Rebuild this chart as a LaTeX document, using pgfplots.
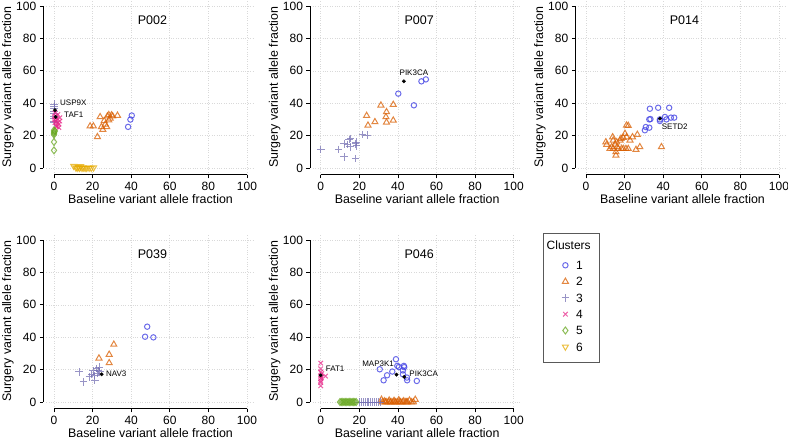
\documentclass[border=0pt]{standalone}
\usepackage{pgfplots}
\pgfplotsset{compat=1.18}
\usepackage{fontspec}
\setmainfont{Liberation Sans}
\definecolor{c1col}{RGB}{70,70,228}
\definecolor{c2col}{RGB}{217,95,2}
\definecolor{c3col}{RGB}{117,112,179}
\definecolor{c4col}{RGB}{231,41,138}
\definecolor{c5col}{RGB}{102,166,30}
\definecolor{c6col}{RGB}{230,171,2}
\pgfplotsset{
 panel/.style={
  scale only axis, width=208.4pt, height=174.96pt,
  xmin=-4,xmax=104,ymin=-4,ymax=104,
  anchor=origin, clip=false,
  axis x line*=bottom, axis y line*=left,
  axis x line shift=0.3pt, axis y line shift=3pt,
  x axis line style={-, line width=0.7pt, shorten <=7.72pt, shorten >=7.72pt},
  y axis line style={-, line width=0.7pt, shorten <=6.48pt, shorten >=6.48pt},
  xtick={0,20,...,100}, ytick={0,20,...,100},
  tick align=outside, major tick length=3.5pt,
  tick style={black, line width=0.7pt},
  grid=major, major grid style={gray!30, dotted, line width=0.6pt},
  ticklabel style={font=\fontsize{12}{14}\selectfont},
  /pgf/number format/assume math mode=true,
  xlabel={Baseline variant allele fraction},
  ylabel={Surgery variant allele fraction},
  label style={font=\fontsize{12.4}{14}\selectfont, inner sep=0pt},
  xlabel style={at={(axis description cs:0.5,-0.139)}, anchor=center},
  ylabel style={at={(axis description cs:-0.1837,0.5)}, anchor=center},
 },
 c1/.style={only marks, mark=o, mark size=2.7pt, color=c1col, mark options={line width=1pt}, opacity=0.8},
 c2/.style={only marks, mark=triangle, mark size=3.5pt, color=c2col, mark options={line width=1pt}, opacity=0.75},
 c3/.style={only marks, mark=+, mark size=3.8pt, color=c3col, mark options={line width=1pt}, opacity=0.75},
 c4/.style={only marks, mark=x, mark size=3.2pt, color=c4col, mark options={line width=1pt}, opacity=0.75},
 c5/.style={only marks, mark=diamond, mark size=3.5pt, color=c5col, mark options={line width=1pt}, opacity=0.75},
 c6/.style={only marks, mark=triangle, mark size=3.5pt, color=c6col, mark options={line width=1pt, rotate=180}, opacity=0.75},
 hl/.style={only marks, mark=*, mark size=1.7pt, color=black},
}
\newcommand{\ptitle}[1]{\node[font=\fontsize{12.5}{14}\selectfont] at (axis cs:51,91) {#1};}
\newcommand{\gfont}{\fontsize{8}{9}\selectfont}
\begin{document}
\begin{tikzpicture}
\useasboundingbox (0pt,0pt) rectangle (788pt,-440pt);
% P002
\begin{axis}[panel, at={(54pt,-168pt)}]
\addplot[c1] coordinates {(38.4,25.4) (39.6,29.9) (40.3,32.4)};
\addplot[c2] coordinates {(18.7,25.8) (20.4,25.8) (22.5,19.2) (23.9,31.5) (24.6,25.4) (25.3,23.7) (26.0,29.1) (26.6,27.0) (27.3,25.4) (27.7,32.0) (28.4,32.8) (29.1,30.7) (29.8,32.6) (30.4,32.0) (32.9,32.4) (28.4,29.5)};
\addplot[c3] coordinates {(0,39.5) (0,38) (0,36.5) (0,35) (0,33.5) (0,32) (0,30.5) (0,29) (0,28)};
\addplot[c4] coordinates {(0.5,34) (1,32) (1.5,30) (2,28) (2.5,27) (3,29) (1,26) (0.3,30) (2,33) (0.5,28) (1.5,25.5) (3,31) (2.5,25) (1,29) (0.2,31.5)};
\addplot[c5] coordinates {(0,23.3) (0,22.3) (0,21.5) (0,20.6) (0.5,22.8) (0,16.1) (0,10.9)};
\addplot[c6] coordinates {(10.2,1.2) (11.3,0.3) (12.0,0) (12.6,0.5) (13.3,0) (13.8,1.0) (14.5,0) (15.2,0.2) (16.1,0) (17.0,0) (18.2,0.1) (19.3,0) (20.5,0.2)};
\addplot[hl] coordinates {(0.5,35.7) (0.9,31.5)};
\ptitle{P002}
\node[font=\gfont, anchor=west, inner sep=0pt] at (axis cs:3.1,40.3) {USP9X};
\node[font=\gfont, anchor=west, inner sep=0pt] at (axis cs:5.2,33.1) {TAF1};
\end{axis}
% P007
\begin{axis}[panel, at={(320.7pt,-168pt)}]
\addplot[c1] coordinates {(40.2,45.9) (48.3,38.7) (52.2,53.5) (54.5,54.7)};
\addplot[c2] coordinates {(23.8,32.3) (24.5,26.3) (28.1,28.4) (31.2,38.7) (34.1,34.6) (33.8,31.5) (34.1,28.2) (37.6,39.1) (37.6,29.4)};
\addplot[c3] coordinates {(0,11.5) (9.3,11.5) (12.2,15.0) (12.2,6.8) (13.8,14.6) (14.8,17.5) (15.2,13.0) (15.5,18.1) (18.1,15.0) (18.3,16.0) (18.6,13.6) (18.1,5.8) (21.6,20.6) (24.1,20.2)};
\addplot[hl] coordinates {(43.1,53.5)};
\ptitle{P007}
\node[font=\gfont, anchor=center, inner sep=0pt] at (axis cs:48.3,58.6) {PIK3CA};
\end{axis}
% P014
\begin{axis}[panel, at={(586pt,-168pt)}]
\addplot[c1] coordinates {(30.5,23.3) (31.0,25.3) (32.8,24.9) (33.1,36.6) (32.8,30.0) (33.4,30.2) (37.4,37.2) (38.3,30.0) (38.3,29.0) (40.9,31.5) (41.7,30.0) (43.1,37.2) (44.0,31.1) (45.7,31.1)};
\addplot[c2] coordinates {(10.3,16.0) (10.7,14.4) (13.8,19.1) (14.1,17.1) (14.1,11.9) (15.0,14.6) (15.5,9.9) (15.5,7.8) (15.9,16.0) (16.2,13.0) (16.7,11.9) (17.6,17.1) (18.1,18.1) (18.4,11.9) (19.3,18.7) (20.2,21.2) (20.7,11.9) (21.0,26.3) (21.9,26.1) (21.0,19.1) (21.9,11.9) (22.8,17.1) (24.1,19.1) (25.9,11.3) (26.6,20.6) (27.9,13.0) (39.1,13.0) (12.4,11.9) (13.3,13.0) (19.3,11.9)};
\addplot[hl] coordinates {(38.3,30.5)};
\ptitle{P014}
\node[font=\gfont, anchor=west, inner sep=0pt] at (axis cs:39.2,25.5) {SETD2};
\end{axis}
% P039
\begin{axis}[panel, at={(54pt,-402pt)}]
\addplot[c1] coordinates {(48.3,46.5) (47.2,40.3) (51.5,39.9)};
\addplot[c2] coordinates {(23.3,27.0) (28.6,29.3) (28.6,24.1) (31.0,35.5)};
\addplot[c3] coordinates {(13.1,18.6) (15.2,12.4) (18.3,15.5) (19.5,16.9) (20.3,19.2) (21.2,13.4) (22.1,20.6) (22.4,17.5) (22.9,19.2) (23.4,21.6) (21.2,16.3) (23.8,18.6)};
\addplot[hl] coordinates {(24.7,17.1)};
\ptitle{P039}
\node[font=\gfont, anchor=west, inner sep=0pt] at (axis cs:26.9,17.3) {NAV3};
\end{axis}
% P046
\begin{axis}[panel, at={(320.7pt,-402pt)},
  legend style={draw=none, fill=none, at={(axis description cs:1.192,0.850)}, anchor=north west, inner sep=0pt, row sep=5.7pt, nodes={inner sep=1pt, text height=8.6pt, text depth=0pt, font=\fontsize{12}{14}\selectfont}, /tikz/every odd column/.append style={column sep=6pt}},
  legend cell align=left]
\addplot[c1, forget plot] coordinates {(30.6,20.2) (32.6,13.4) (34.4,16.5) (37.1,18.8) (39.0,26.4) (39.7,22.3) (40.5,21.6) (42.6,17.1) (43.1,22.3) (43.3,21.5) (44.7,15.1) (44.8,13.4) (49.8,13.0) (42.6,19.5)};
\addplot[c2, forget plot] coordinates {(31.5,1.5) (32,0) (33,0.5) (34,0) (35,0) (35.5,1) (36.5,0) (37.5,0) (38,0.8) (39,0) (40,0) (40.5,1.2) (41.5,0) (42.5,0) (43,0.6) (44,0) (45,0) (46,1) (47,0) (48,0) (49,1.5) (33.5,0) (36,0) (38.5,0) (41,0) (44.5,0)};
\addplot[c3, forget plot] coordinates {(20,0) (21,0) (22,0) (23,0) (24,0) (25,0) (26,0) (27,0) (28,0) (29,0) (30,0) (31,0)};
\addplot[c4, forget plot] coordinates {(0,24) (0,20.5) (0,18.5) (0,16) (0,14.5) (0,13) (0,12) (0,10) (2.5,16) (0.5,17.5) (0.3,15)};
\addplot[c5, forget plot] coordinates {(10,0) (10.7,0) (11.4,0) (12.1,0) (12.8,0) (13.5,0) (14.2,0) (14.9,0) (15.6,0) (16.3,0) (17,0) (17.7,0) (18.4,0)};
\addplot[hl, forget plot] coordinates {(0,16.5) (39.3,16.9) (43.3,15.5)};
\addlegendimage{c1}\addlegendentry{1}
\addlegendimage{c2}\addlegendentry{2}
\addlegendimage{c3}\addlegendentry{3}
\addlegendimage{c4}\addlegendentry{4}
\addlegendimage{c5}\addlegendentry{5}
\addlegendimage{c6}\addlegendentry{6}
\ptitle{P046}
\node[font=\gfont, anchor=west, inner sep=0pt] at (axis cs:2.6,20.8) {FAT1};
\node[font=\gfont, anchor=east, inner sep=0pt] at (axis cs:38,23.5) {MAP3K1};
\node[font=\gfont, anchor=west, inner sep=0pt] at (axis cs:45.9,17.3) {PIK3CA};
\end{axis}
% legend frame and title
\draw[black!65, line width=0.8pt] (543pt,-233pt) rectangle (599pt,-362pt);
\node[anchor=west, inner sep=0pt, font=\fontsize{12}{14}\selectfont] at (546.5pt,-245.7pt) {Clusters};
\end{tikzpicture}
\end{document}
